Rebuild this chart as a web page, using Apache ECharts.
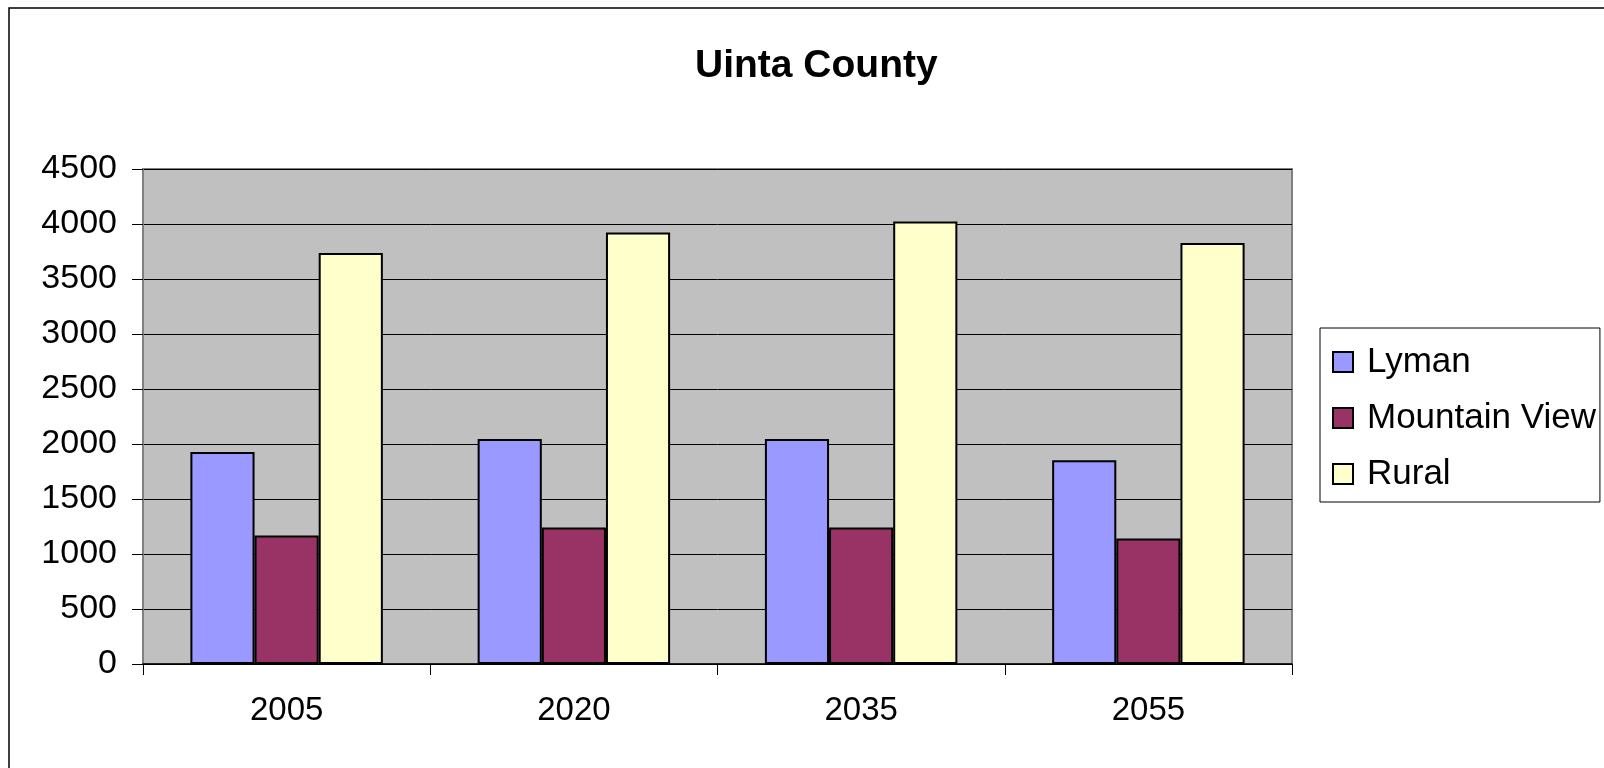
<!DOCTYPE html>
<html>
<head>
<meta charset="utf-8">
<script src="https://cdn.jsdelivr.net/npm/echarts@6/dist/echarts.min.js"></script>
<style>
html,body{margin:0;padding:0;background:#fff;}
#chart{width:1604px;height:768px;}
</style>
</head>
<body>
<div id="chart"></div>
<script>
const title = 'Uinta County';
const categories = ['2005', '2020', '2035', '2055'];
const seriesNames = ['Lyman', 'Mountain View', 'Rural'];
const lyman = [1928, 2045, 2045, 1853];
const mountainView = [1168, 1240, 1240, 1140];
const rural = [3736, 3922, 4022, 3828];
const colors = ['#9999FF', '#993366', '#FFFFCC'];

const FONT = 'Liberation Sans, Arial, sans-serif';
const chart = echarts.init(document.getElementById('chart'));
const dataSets = [lyman, mountainView, rural];

chart.setOption({
  backgroundColor: '#ffffff',
  animation: false,
  graphic: [{
    type: 'rect',
    shape: { x: 9, y: 8, width: 1620, height: 790 },
    style: { fill: 'none', stroke: '#000', lineWidth: 1.5 },
    silent: true, z: 100
  }],
  title: {
    text: title,
    left: 690,
    top: 42,
    textStyle: { fontFamily: FONT, fontSize: 39, fontWeight: 'bold', color: '#000' }
  },
  legend: {
    orient: 'vertical',
    left: 1320,
    top: 328,
    padding: [14, 4, 8, 12],
    itemWidth: 20,
    itemHeight: 20,
    itemGap: 16,
    itemTextGap: 12,
    borderColor: '#000',
    borderWidth: 1,
    backgroundColor: '#fff',
    icon: 'rect',
    data: seriesNames,
    textStyle: { fontFamily: FONT, fontSize: 35, color: '#000', lineHeight: 40,
      padding: [0, 0, 0, 9] }
  },
  grid: {
    left: 143, top: 169, width: 1149, height: 495,
    show: true, backgroundColor: '#C0C0C0', borderColor: '#808080', borderWidth: 2,
    containLabel: false
  },
  xAxis: {
    type: 'category',
    data: categories,
    axisLine: { lineStyle: { color: '#000', width: 1.5 } },
    axisTick: { show: true, length: 11, lineStyle: { color: '#000' } },
    axisLabel: { fontFamily: FONT, fontSize: 33, color: '#000', margin: 30 }
  },
  yAxis: {
    type: 'value',
    min: 0, max: 4500, interval: 500,
    axisLine: { show: true, lineStyle: { color: '#808080', width: 2 } },
    axisTick: { show: true, length: 11, lineStyle: { color: '#000' } },
    axisLabel: { fontFamily: FONT, fontSize: 34, color: '#000', margin: 26,
      formatter: v => String(v) },
    splitLine: { show: true, lineStyle: { color: '#000', width: 1 } }
  },
  series: seriesNames.map((name, i) => ({
    name: name,
    type: 'bar',
    data: dataSets[i],
    barGap: '0%',
    barCategoryGap: '33%',
    itemStyle: { color: colors[i], borderColor: '#000', borderWidth: 2 }
  }))
});
</script>
</body>
</html>
